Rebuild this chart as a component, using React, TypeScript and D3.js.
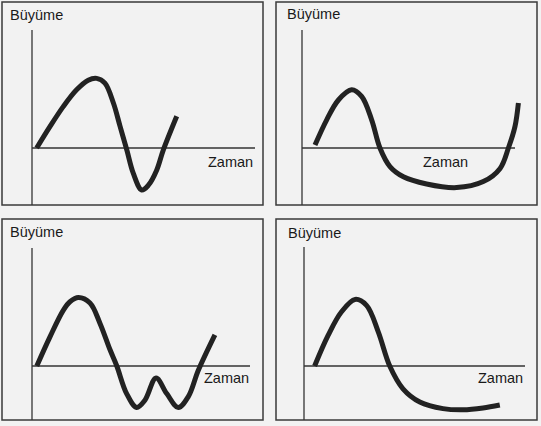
import React from 'react'
import * as d3 from 'd3'

// Veriler: zaman (0-10) ve büyüme (0 = yatay eksen)
const zaman1 = [0.21, 0.81, 1.4, 2.0, 2.52, 2.9, 3.27, 3.65, 3.95, 4.25, 4.54, 4.92, 5.22, 5.59, 5.89, 6.49]
const buyume1 = [0, 0.36, 0.69, 0.97, 1.13, 1.16, 1.08, 0.75, 0.36, -0.03, -0.42, -0.7, -0.62, -0.37, -0.03, 0.53]

const zaman2 = [0.61, 1.16, 1.71, 2.33, 2.8, 3.27, 3.66, 4.13, 4.76, 5.85, 7.26, 8.51, 9.3, 9.69, 10.0, 10.16]
const buyume2 = [0.05, 0.47, 0.8, 0.97, 0.86, 0.47, 0, -0.31, -0.48, -0.6, -0.66, -0.56, -0.34, 0, 0.36, 0.75]

const zaman3 = [0.22, 0.83, 1.44, 1.74, 2.13, 2.66, 3.12, 3.58, 3.89, 4.34, 4.8, 5.18, 5.69, 6.18, 6.71, 7.17, 7.63, 8.39]
const buyume3 = [0, 0.49, 0.93, 1.07, 1.14, 1.05, 0.71, 0.27, 0, -0.46, -0.69, -0.57, -0.2, -0.46, -0.69, -0.51, -0.07, 0.52]

const zaman4 = [0.48, 1.09, 1.69, 2.31, 2.83, 3.36, 3.88, 4.48, 5.24, 6.29, 7.19, 8.1, 8.86]
const buyume4 = [0, 0.51, 0.9, 1.11, 1.01, 0.57, 0, -0.38, -0.6, -0.71, -0.73, -0.7, -0.65]

const yLabel = 'Büyüme'
const xLabel = 'Zaman'

// panel yerleşimi
const panels = [
  { box: [2, 2, 263, 205], origin: [32, 148], xEnd: 255, axisTop: 30, lab: [10, 20], zl: [208, 167], t: zaman1, v: buyume1 },
  { box: [276, 2, 537, 205], origin: [302, 148], xEnd: 515, axisTop: 30, lab: [287, 19], zl: [423, 167], t: zaman2, v: buyume2 },
  { box: [2, 219, 263, 420], origin: [32, 366], xEnd: 250, axisTop: 248, lab: [10, 237], zl: [204, 383], t: zaman3, v: buyume3 },
  { box: [276, 219, 537, 420], origin: [304, 366], xEnd: 525, axisTop: 247, lab: [288, 238], zl: [478, 383], t: zaman4, v: buyume4 },
]

const W = 541
const H = 426
const font = '"Liberation Sans", Arial, sans-serif'

function Panel({ p }: { p: any }) {
  const [x0, y0, x1, y1] = p.box
  const x = d3.scaleLinear().domain([0, 10]).range([p.origin[0], p.xEnd])
  const y = d3.scaleLinear().domain([0, 1]).range([p.origin[1], p.origin[1] - 60])
  const pts: [number, number][] = p.t.map((t: number, i: number) => [t, p.v[i]])
  const line = d3.line<[number, number]>()
    .x(d => x(d[0]))
    .y(d => y(d[1]))
    .curve(d3.curveCatmullRom.alpha(0.5))

  return (
    <g>
      <rect x={x0} y={y0} width={x1 - x0} height={y1 - y0} fill="none" stroke="#3a3a3a" strokeWidth={1.5} />
      {/* eksenler */}
      <line x1={x(0)} x2={x(0)} y1={p.axisTop} y2={y1} stroke="#333" strokeWidth={1.3} />
      <line x1={x(0)} x2={x(10)} y1={y(0)} y2={y(0)} stroke="#333" strokeWidth={1.3} />
      <path d={line(pts) || ''} fill="none" stroke="#222" strokeWidth={5} strokeLinecap="butt" strokeLinejoin="round" />
      <text x={p.lab[0]} y={p.lab[1]} fontFamily={font} fontSize={14.5} fill="#1a1a1a">{yLabel}</text>
      <text x={p.zl[0]} y={p.zl[1]} fontFamily={font} fontSize={14.5} fill="#1a1a1a">{xLabel}</text>
    </g>
  )
}

export default function App() {
  return (
    <svg width={W} height={H} style={{ position: 'absolute', left: 0, top: 0, background: '#f2f2f2' }}>
      <rect x={0} y={0} width={W} height={H} fill="#f2f2f2" />
      {panels.map((p, i) => <Panel key={i} p={p} />)}
    </svg>
  )
}
